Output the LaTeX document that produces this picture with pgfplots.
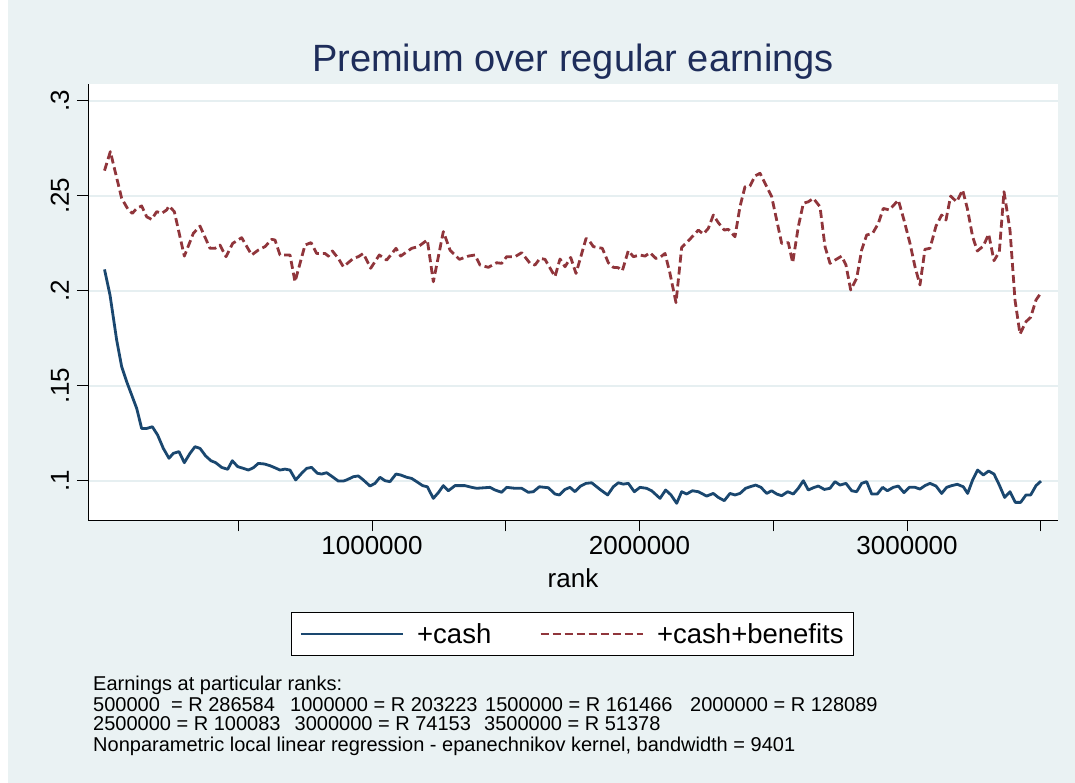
\documentclass[border=0pt]{standalone}
\usepackage{fontspec}
\setmainfont{Liberation Sans}
\usepackage{pgfplots}
\pgfplotsset{compat=1.18}
\definecolor{bgc}{RGB}{234,242,243}
\definecolor{gridc}{RGB}{230,239,241}
\definecolor{stblue}{RGB}{26,71,111}
\definecolor{stred}{RGB}{144,53,59}
\definecolor{titlec}{RGB}{30,45,90}

\pgfplotstableread{
x y
0 0.2112
20600 0.1977
45500 0.1740
64200 0.1600
82900 0.1521
101600 0.1451
120200 0.1381
138900 0.1275
157600 0.1275
178800 0.1284
198700 0.1240
219900 0.1170
241100 0.1118
257300 0.1144
278500 0.1153
298400 0.1095
319600 0.1144
338300 0.1179
357000 0.1170
378200 0.1130
398100 0.1105
415500 0.1095
438000 0.1070
460400 0.1060
477800 0.1105
497800 0.1074
519000 0.1065
537700 0.1056
556300 0.1068
575000 0.1091
597500 0.1088
618600 0.1079
637300 0.1068
656000 0.1056
674700 0.1061
693400 0.1056
714600 0.1004
737000 0.1039
755700 0.1065
774400 0.1070
795600 0.1039
811800 0.1035
830500 0.1042
851700 0.1021
874100 0.0998
892800 0.0998
905200 0.1004
930200 0.1021
948800 0.1025
967500 0.1004
992400 0.0972
1011100 0.0986
1029800 0.1018
1048500 0.1000
1067200 0.0995
1089600 0.1035
1107100 0.1030
1129500 0.1018
1148200 0.1012
1166900 0.0995
1189300 0.0974
1206700 0.0968
1229200 0.0907
1247900 0.0937
1266600 0.0974
1285200 0.0947
1310200 0.0974
1347600 0.0974
1372500 0.0965
1391200 0.0960
1441000 0.0965
1459700 0.0951
1484600 0.0939
1503300 0.0965
1534500 0.0960
1559400 0.0960
1584300 0.0939
1603000 0.0942
1625400 0.0968
1659000 0.0963
1684000 0.0930
1700200 0.0925
1721400 0.0954
1740100 0.0965
1758800 0.0942
1780000 0.0972
1799900 0.0986
1821100 0.0989
1852200 0.0954
1880800 0.0925
1902000 0.0968
1920700 0.0989
1939400 0.0982
1958100 0.0986
1980500 0.0942
2001700 0.0965
2026600 0.0960
2045300 0.0947
2076500 0.0907
2097700 0.0951
2117600 0.0925
2138800 0.0881
2157500 0.0942
2176200 0.0930
2197300 0.0947
2219800 0.0942
2250900 0.0919
2275800 0.0933
2294500 0.0912
2316900 0.0895
2338100 0.0933
2356800 0.0925
2375500 0.0933
2396700 0.0960
2412900 0.0968
2434100 0.0977
2454000 0.0965
2475200 0.0933
2493900 0.0947
2512600 0.0930
2531300 0.0921
2553700 0.0942
2574900 0.0930
2593500 0.0960
2612300 0.1000
2630900 0.0951
2649700 0.0963
2668300 0.0972
2690800 0.0954
2712000 0.0960
2730700 0.0995
2749400 0.0977
2771700 0.0986
2793000 0.0947
2811600 0.0942
2830300 0.0986
2849000 0.0995
2867700 0.0930
2888900 0.0930
2908800 0.0965
2926300 0.0947
2948700 0.0965
2967400 0.0972
2988500 0.0937
3008500 0.0965
3029700 0.0965
3048300 0.0956
3067000 0.0974
3085700 0.0986
3108200 0.0972
3129300 0.0933
3148000 0.0965
3166700 0.0974
3187900 0.0981
3210300 0.0968
3226500 0.0933
3245200 0.1004
3263900 0.1056
3285100 0.1030
3305000 0.1051
3325000 0.1035
3344900 0.0977
3364800 0.0912
3384800 0.0942
3404700 0.0886
3424600 0.0886
3444600 0.0925
3462100 0.0925
3482000 0.0974
3500700 0.0998
}\cashtable

\pgfplotstableread{
x y
0 0.2632
21800 0.2732
64200 0.2486
89100 0.2425
104000 0.2407
120200 0.2433
138900 0.2446
157600 0.2389
176300 0.2375
195000 0.2416
213700 0.2407
232400 0.2425
241100 0.2446
261000 0.2416
298400 0.2182
332100 0.2302
357000 0.2340
394400 0.2223
413000 0.2223
431700 0.2240
454200 0.2179
479100 0.2249
512700 0.2279
550100 0.2188
575000 0.2214
600000 0.2232
624900 0.2270
637300 0.2267
656000 0.2188
693400 0.2188
712100 0.2047
749500 0.2240
771900 0.2253
793100 0.2196
824300 0.2196
836700 0.2182
851700 0.2209
874100 0.2170
892800 0.2126
930200 0.2170
948800 0.2179
967500 0.2196
995000 0.2118
1027300 0.2188
1054800 0.2161
1089600 0.2223
1107100 0.2182
1148200 0.2223
1173100 0.2232
1206700 0.2267
1229200 0.2047
1266600 0.2311
1291500 0.2214
1326400 0.2165
1360000 0.2182
1384900 0.2188
1403600 0.2135
1434800 0.2123
1465900 0.2147
1484600 0.2144
1503300 0.2179
1534500 0.2179
1559400 0.2200
1590600 0.2144
1609200 0.2135
1627900 0.2170
1646600 0.2165
1684000 0.2074
1702700 0.2167
1721400 0.2126
1742600 0.2175
1762500 0.2091
1799900 0.2274
1808600 0.2270
1827300 0.2232
1860900 0.2223
1883400 0.2147
1902000 0.2123
1920700 0.2121
1935700 0.2105
1958100 0.2211
1976800 0.2179
2001700 0.2188
2020400 0.2182
2039100 0.2200
2060300 0.2170
2076500 0.2175
2095200 0.2196
2113800 0.2091
2136300 0.1937
2157500 0.2228
2176200 0.2253
2194800 0.2281
2219800 0.2319
2238500 0.2298
2257100 0.2328
2275800 0.2398
2294500 0.2358
2316900 0.2319
2331900 0.2323
2356800 0.2284
2375500 0.2442
2394200 0.2547
2412900 0.2551
2431600 0.2604
2450300 0.2618
2469000 0.2565
2493900 0.2495
2512600 0.2372
2531300 0.2249
2556200 0.2253
2572500 0.2147
2593500 0.2337
2612300 0.2460
2630900 0.2468
2649700 0.2486
2674600 0.2442
2693300 0.2232
2712000 0.2144
2730700 0.2161
2755500 0.2182
2771700 0.2135
2789200 0.2004
2811600 0.2065
2830300 0.2214
2849000 0.2293
2871400 0.2302
2892600 0.2354
2911300 0.2433
2933700 0.2425
2967400 0.2477
2988500 0.2372
3011000 0.2249
3029700 0.2126
3048300 0.2030
3067000 0.2218
3085700 0.2223
3108200 0.2340
3129300 0.2398
3145500 0.2372
3163000 0.2498
3185400 0.2468
3207800 0.2530
3225300 0.2433
3245200 0.2284
3262700 0.2209
3285100 0.2235
3305000 0.2298
3325000 0.2158
3344900 0.2205
3362400 0.2521
3384800 0.2319
3403500 0.1951
3422200 0.1772
3444600 0.1837
3462100 0.1860
3482000 0.1951
3500700 0.1989
}\benefitstable

\begin{document}
\begin{tikzpicture}[x=1pt,y=1pt]
\fill[white] (0,0) rectangle (1075,783);
\fill[bgc] (8,0) rectangle (1075,783);
\useasboundingbox (0,0) rectangle (1075,783);
\node[anchor=base, text=titlec, font=\fontsize{38}{44}\selectfont, inner sep=0pt] at (573,711) {Premium over regular earnings};
\begin{axis}[
  at={(88pt,262.7pt)}, anchor=south west,
  scale only axis, width=970pt, height=436.6pt,
  xmin=-61700, xmax=3564300, ymin=0.07916, ymax=0.30895,
  axis background/.style={fill=white},
  axis x line*=bottom, axis y line*=left,
  axis line style={black, line width=0.8pt},
  ytick={0.1,0.15,0.2,0.25,0.3}, yticklabels={.1,.15,.2,.25,.3},
  xtick={1000000,2000000,3000000}, xticklabels={1000000,2000000,3000000},
  scaled x ticks=false, scaled y ticks=false,
  minor xtick={500000,1500000,2500000,3500000},
  tick align=outside, major tick length=11pt, minor tick length=11pt,
  tick style={black, line width=0.8pt},
  ymajorgrids, major grid style={gridc, line width=2pt},
  /pgf/number format/assume math mode=true,
  ticklabel style={font=\fontsize{26}{30}\selectfont},
  yticklabel style={xshift=-8pt, rotate=90, anchor=base},
  xticklabel style={yshift=-2pt},
  xlabel={rank},
  xlabel style={font=\fontsize{26}{30}\selectfont, at={(axis description cs:0.5,-0.1528)}, anchor=base},
  legend columns=2,
  legend cell align=left,
  legend style={at={(0.4995,-0.2604)}, anchor=center, draw=black, line width=0.8pt, fill=white,
    font=\fontsize{27.5}{32}\selectfont, inner xsep=8pt, inner ysep=9pt,
    /tikz/every odd column/.append style={column sep=11pt},
    /tikz/every even column/.append style={column sep=46pt}},
  legend image code/.code={\draw[#1] (0pt,0pt) -- (102pt,0pt);},
]
\addplot[stblue, line width=2.8pt, line join=round] table[x=x,y=y] {\cashtable};
\addlegendentry{+cash}
\addplot[stred, line width=2.8pt, line join=round, dash pattern=on 8pt off 4pt] table[x=x,y=y] {\benefitstable};
\addlegendentry{+cash+benefits}
\end{axis}
\begin{scope}[every node/.style={anchor=base west, inner sep=0pt, font=\fontsize{20}{24}\selectfont}]
\node at (93,92) {Earnings at particular ranks:};
\node at (93,71) {500000\ \ = R 286584};
\node at (290,71) {1000000 = R 203223};
\node at (485,71) {1500000 = R 161466};
\node at (690,71) {2000000 = R 128089};
\node at (93,52) {2500000 = R 100083};
\node at (294.5,52) {3000000 = R 74153};
\node at (484,52) {3500000 = R 51378};
\node at (93,31) {Nonparametric local linear regression - epanechnikov kernel, bandwidth = 9401};
\end{scope}
\end{tikzpicture}
\end{document}
